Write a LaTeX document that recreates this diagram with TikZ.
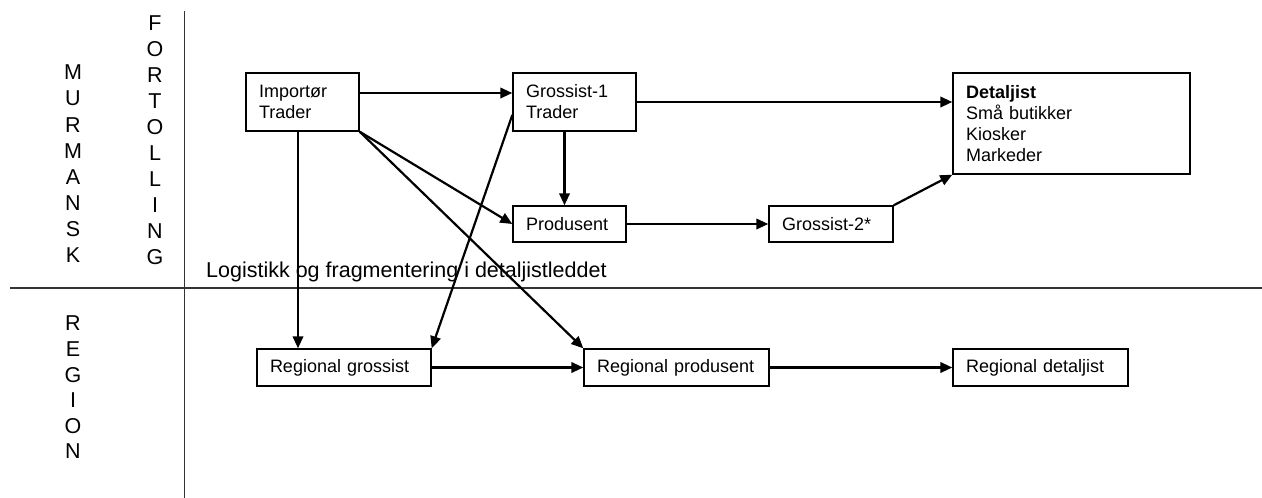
\documentclass[tikz,border=0pt]{standalone}
\usepackage{fontspec}
\setmainfont{Liberation Sans}
\usetikzlibrary{arrows.meta}
\tikzset{
  boks/.style={draw, line width=1.4pt, inner xsep=13pt, inner ysep=0pt, align=left,
    font=\fontsize{18}{21}\selectfont},
  pil/.style={line width=2.2pt, -{Triangle[length=12pt,width=10.5pt]}},
  bokstav/.style={inner sep=0pt, font=\fontsize{21.5}{26}\selectfont},
}
\begin{document}
\begin{tikzpicture}[x=1pt,y=-1pt]
			\useasboundingbox (0,0) rectangle (1262,498);
			% akser
			\draw[line width=1.5pt, black!80] (184.5,11) -- (184.5,498);
			\draw[line width=1.5pt, black!80] (10,288) -- (1262,288);
			\foreach \l [count=\i] in {M,U,R,M,A,N,S,K}
				\node[bokstav] (mur\i) at (73,72.5+26.1*\i-26.1) {\l};
			\foreach \l [count=\i] in {F,O,R,T,O,L,L,I,N,G}
				\node[bokstav] (fort\i) at (155,23.5+25.9*\i-25.9) {\l};
			\foreach \l [count=\i] in {R,E,G,I,O,N}
				\node[bokstav] (reg\i) at (73,323.5+25.6*\i-25.6) {\l};
			\node[bokstav, anchor=base west] (logistikk) at (206,277) {Logistikk og fragmentering i detaljistleddet};
			% bokser
			\node[boks, minimum height=58pt, text width=87pt] (imp) at (302.5,102) {Importør\\Trader};
			\node[boks, minimum height=58pt, text width=97pt] (gro1) at (574.5,102) {Grossist-1\\Trader};
			\node[boks, minimum height=36pt, text width=87pt] (prod) at (569.5,224) {Produsent};
			\node[boks, minimum height=36pt, text width=98pt] (gro2) at (831,224) {Grossist-2*};
			\node[boks, minimum height=101pt, text width=211pt] (det) at (1071.5,123.5) {\textbf{Detaljist}\\Små butikker\\Kiosker\\Markeder};
			\node[boks, minimum height=37pt, text width=148pt] (rgro) at (344,367.5) {Regional grossist};
			\node[boks, minimum height=37pt, text width=159pt] (rprod) at (676.5,367.5) {Regional produsent};
			\node[boks, minimum height=37pt, text width=149pt] (rdet) at (1040.5,367.5) {Regional detaljist};
			% piler
			\draw[pil] ([yshift=9pt]imp.east) -- ([yshift=9pt]imp.east -| gro1.west);
			\draw[pil] ([xshift=-4.5pt]imp.south) -- ([xshift=-4.5pt]imp.south |- rgro.north);
			\draw[pil] (imp.south east) -- (prod.west);
			\draw[pil] (imp.south east) -- (rprod.north west);
			\draw[pil] ([yshift=-13pt]gro1.west) -- (rgro.north east);
			\draw[pil] ([xshift=-10pt]gro1.south) -- ([xshift=-10pt]gro1.south |- prod.north);
			\draw[pil] (gro1.east) -- (gro1.east -| det.west);
			\draw[pil] (prod.east) -- (gro2.west);
			\draw[pil] (gro2.north east) -- (det.south west);
			\draw[pil] (rgro.east) -- (rprod.west);
			\draw[pil] (rprod.east) -- (rdet.west);
\end{tikzpicture}
\end{document}
